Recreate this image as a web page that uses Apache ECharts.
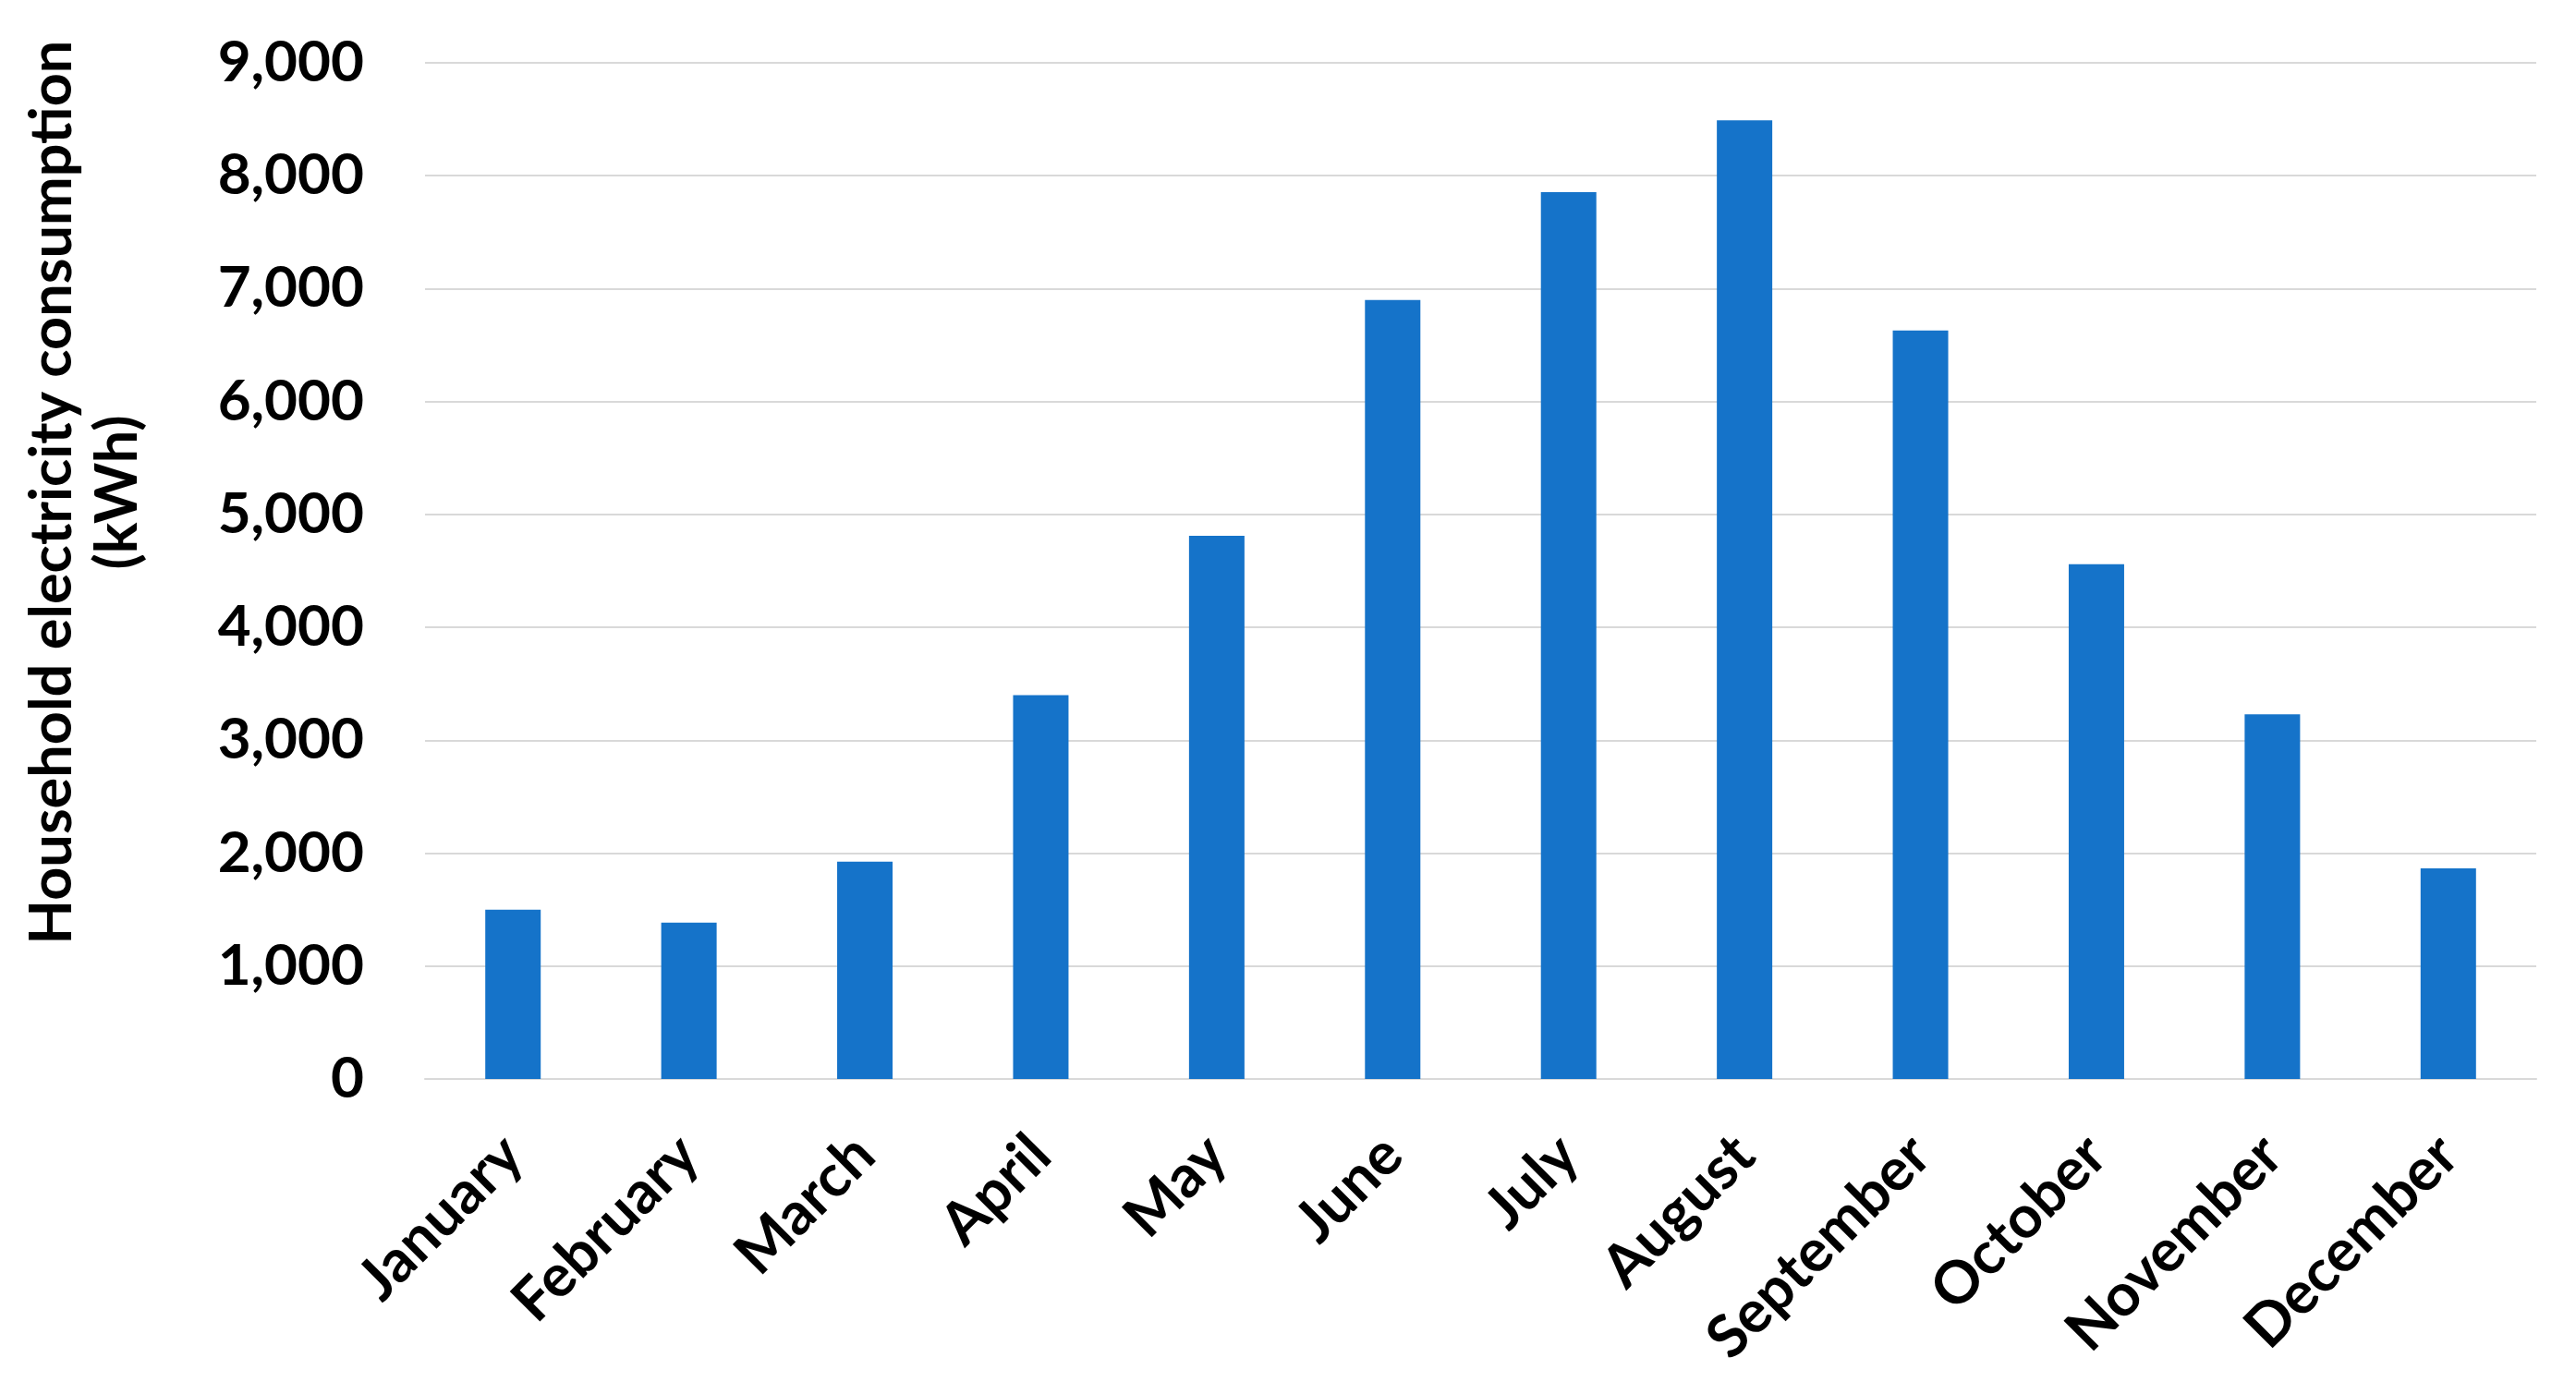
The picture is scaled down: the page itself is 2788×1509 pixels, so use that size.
<!DOCTYPE html>
<html>
<head>
<meta charset="utf-8">
<script src="https://cdn.jsdelivr.net/npm/echarts@6/dist/echarts.min.js"></script>
<style>
html,body{margin:0;padding:0;background:#fff;}
#chart{width:2788px;height:1509px;}
</style>
</head>
<body>
<div id="chart"></div>
<script>
const categories = ['January','February','March','April','May','June','July','August','September','October','November','December'];
const consumption = [1500, 1385, 1925, 3400, 4810, 6900, 7855, 8490, 6630, 4560, 3230, 1865];
const yAxisTitle = 'Household electricity consumption\n(kWh)';
const yMin = 0, yMax = 9000, yStep = 1000;

const FONT = 'Lato';
const chart = echarts.init(document.getElementById('chart'));
chart.setOption({
  backgroundColor: '#ffffff',
  animation: false,
  grid: { left: 460, right: 43, top: 68, bottom: 341, containLabel: false },
  xAxis: {
    type: 'category',
    data: categories,
    axisLine: { show: true, lineStyle: { color: '#d9d9d9', width: 2 } },
    axisTick: { show: false },
    axisLabel: {
      rotate: 45,
      interval: 0,
      margin: 72,
      color: '#000',
      fontFamily: FONT,
      fontWeight: 'bold',
      fontSize: 64
    }
  },
  yAxis: {
    type: 'value',
    min: yMin, max: yMax, interval: yStep,
    axisLine: { show: false },
    axisTick: { show: false },
    splitLine: { show: true, lineStyle: { color: '#d9d9d9', width: 2 } },
    axisLabel: {
      margin: 66,
      color: '#000',
      fontFamily: FONT,
      fontWeight: 'bold',
      fontSize: 62,
      formatter: v => v.toLocaleString('en-US')
    }
  },
  graphic: [{
    type: 'text',
    x: 92, y: 533,
    rotation: Math.PI / 2,
    style: {
      text: yAxisTitle,
      fill: '#000',
      font: 'bold 63px ' + FONT,
      lineHeight: 71,
      align: 'center',
      verticalAlign: 'middle'
    }
  }],
  series: [{
    type: 'bar',
    data: consumption,
    barWidth: 60,
    itemStyle: { color: '#1573C9' }
  }]
});
</script>
</body>
</html>
